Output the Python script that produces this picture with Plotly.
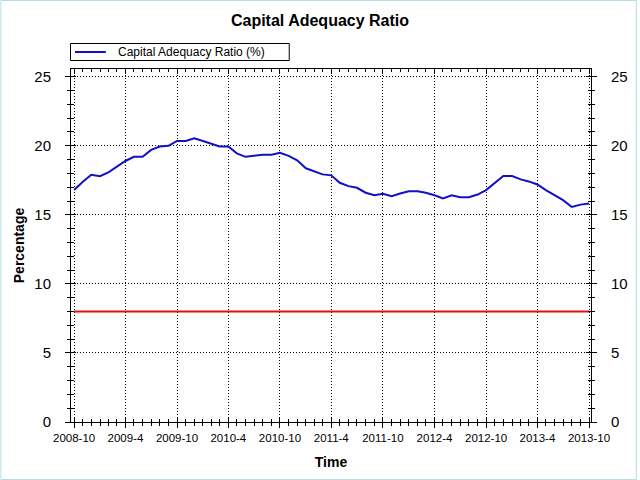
import plotly.graph_objects as go

# monthly capital adequacy ratio, 2008-10 .. 2013-10
months = [f"{2008 + (9 + i) // 12}-{(9 + i) % 12 + 1:02d}-01" for i in range(61)]
car_values = [
    16.8, 17.4, 17.9, 17.8, 18.1, 18.5, 18.9, 19.2, 19.2, 19.7,
    19.95, 20.0, 20.35, 20.35, 20.55, 20.35, 20.15, 19.95, 19.95, 19.45,
    19.2, 19.3, 19.35, 19.35, 19.5, 19.27, 18.95, 18.37, 18.12, 17.93,
    17.86, 17.32, 17.08, 16.96, 16.6, 16.42, 16.52, 16.35, 16.54, 16.71,
    16.71, 16.6, 16.42, 16.18, 16.42, 16.28, 16.28, 16.47, 16.79, 17.32,
    17.81, 17.81, 17.57, 17.42, 17.2, 16.79, 16.4, 16.06, 15.57, 15.74,
    15.82,
]
minimum_ratio = [8.0] * len(months)

tick_dates = ["2008-10-01", "2009-04-01", "2009-10-01", "2010-04-01", "2010-10-01",
              "2011-04-01", "2011-10-01", "2012-04-01", "2012-10-01", "2013-04-01",
              "2013-10-01"]
tick_labels = ["2008-10", "2009-4", "2009-10", "2010-4", "2010-10", "2011-4",
               "2011-10", "2012-4", "2012-10", "2013-4", "2013-10"]
y_ticks = [0, 5, 10, 15, 20, 25]

x_range = ["2008-09-20", "2013-10-08"]
y_range = [0, 25.56]

FONT = "Liberation Sans, Arial, sans-serif"
BLUE = "#1010c8"
RED = "#e01010"
ML, MR, MT, MB = 71, 46, 69, 58
PW, PH = 640 - ML - MR, 480 - MT - MB


def px(x):
    # pixel column -> paper x
    return (x - ML) / PW


def py(y):
    # pixel row -> paper y
    return (480 - MB - y) / PH


fig = go.Figure()

fig.add_trace(go.Scatter(x=months, y=car_values, mode="lines", name="Capital Adequacy Ratio (%)",
                         line=dict(color=BLUE, width=2)))
fig.add_trace(go.Scatter(x=months, y=minimum_ratio, mode="lines", name="Minimum",
                         line=dict(color=RED, width=2)))

# invisible helper traces so the overlay axes get drawn
fig.add_trace(go.Scatter(x=months[:1], y=minimum_ratio[:1], xaxis="x2", yaxis="y2", mode="lines",
                         hoverinfo="skip", line=dict(width=0)))
fig.add_trace(go.Scatter(x=months[:1], y=minimum_ratio[:1], xaxis="x", yaxis="y3", mode="lines",
                         hoverinfo="skip", line=dict(width=0)))

common_x = dict(type="date", range=x_range, tickvals=tick_dates, linecolor="black", linewidth=1)
common_y = dict(range=y_range, tickvals=y_ticks, linecolor="black", linewidth=1)
dotted = "1px,2px"

fig.update_layout(
    width=640, height=480,
    margin=dict(l=ML, r=MR, t=MT, b=MB),
    paper_bgcolor="white", plot_bgcolor="white",
    font=dict(family=FONT, color="black"),
    title=dict(text="<b>Capital Adequacy Ratio</b>", x=0.5, xanchor="center", y=0.958,
               yanchor="middle", font=dict(size=16, family=FONT, color="black")),
    showlegend=False,
    xaxis=dict(**common_x, ticktext=tick_labels, ticks="outside", ticklen=5, tickcolor="black",
               showgrid=True, gridcolor="black", griddash=dotted, gridwidth=1,
               tickfont=dict(size=11.5), zeroline=False,
               minor=dict(dtick="M1", tick0="2008-10-01", ticks="outside", ticklen=3,
                          tickcolor="black", showgrid=False),
               title=dict(text="<b>Time</b>", font=dict(size=14), standoff=14)),
    xaxis2=dict(**common_x, overlaying="x", anchor="y", side="bottom", showticklabels=False,
                ticks="inside", ticklen=5, tickcolor="black", mirror="ticks", showgrid=False,
                zeroline=False,
                minor=dict(dtick="M1", tick0="2008-10-01", ticks="inside", ticklen=3,
                           tickcolor="black", showgrid=False)),
    yaxis=dict(**common_y, ticks="outside", ticklen=5, tickcolor="black", showgrid=True,
               gridcolor="black", griddash=dotted, gridwidth=1, zeroline=False,
               tickfont=dict(size=15), ticklabelstandoff=11,
               minor=dict(dtick=1, ticks="outside", ticklen=3, tickcolor="black", showgrid=False),
               title=dict(text="<b>Percentage</b>", font=dict(size=14), standoff=6)),
    yaxis2=dict(**common_y, overlaying="y", side="right", anchor="x", ticks="outside", ticklen=5,
                tickcolor="black", showgrid=False, zeroline=False, tickfont=dict(size=15),
                ticklabelstandoff=11,
                minor=dict(dtick=1, ticks="outside", ticklen=3, tickcolor="black", showgrid=False)),
    yaxis3=dict(**common_y, overlaying="y", side="left", anchor="x", ticks="inside", ticklen=5,
                tickcolor="black", mirror="ticks", showticklabels=False, showgrid=False,
                zeroline=False,
                minor=dict(dtick=1, ticks="inside", ticklen=3, tickcolor="black", showgrid=False)),
)

# legend box drawn by hand (only the blue series is listed)
fig.add_shape(type="rect", xref="paper", yref="paper", x0=px(70.5), x1=px(290.5),
              y0=py(60.5), y1=py(43.5), line=dict(color="black", width=1), fillcolor="white")
fig.add_shape(type="line", xref="paper", yref="paper", x0=px(75), x1=px(106),
              y0=py(52), y1=py(52), line=dict(color=BLUE, width=2))
fig.add_annotation(text="Capital Adequacy Ratio (%)", xref="paper", yref="paper",
                   x=px(116), y=py(52), xanchor="left", yanchor="middle", showarrow=False,
                   font=dict(size=12, family=FONT, color="black"))

# thin light-blue frame round the whole picture
fig.add_shape(type="rect", xref="paper", yref="paper",
              x0=px(0.5), x1=px(639.5), y0=py(479.5), y1=py(0.5),
              line=dict(color="#b4dce6", width=1), layer="below")

fig.write_html("out.html", config={"displayModeBar": False},
               post_script="document.body.style.margin='0';")
